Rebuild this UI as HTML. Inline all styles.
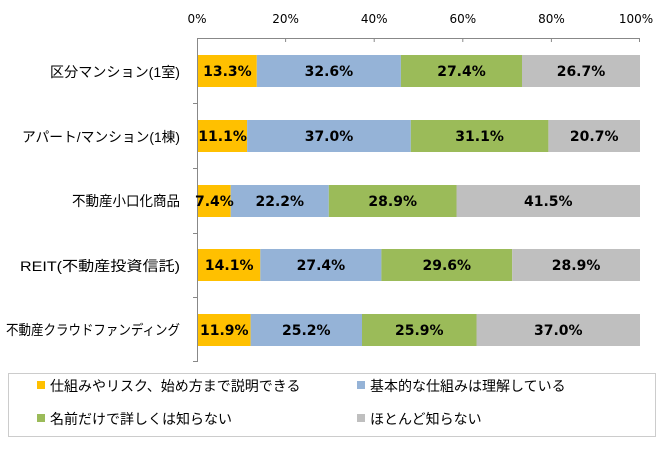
<!DOCTYPE html>
<html><head><meta charset="utf-8"><style>
body{margin:0;background:#fff;width:666px;height:447px;overflow:hidden;font-family:"Liberation Sans","Noto Sans CJK JP",sans-serif}
</style></head><body>
<svg width="666" height="447" xmlns="http://www.w3.org/2000/svg" font-family="Liberation Sans, Noto Sans CJK JP, sans-serif">
<g font-size="12" fill="#000" text-anchor="middle" font-family="DejaVu Sans, sans-serif">
<text x="197" y="23">0%</text><text x="285.6" y="23">20%</text><text x="374.2" y="23">40%</text><text x="462.8" y="23">60%</text><text x="551.4" y="23">80%</text><text x="636" y="23">100%</text>
</g>
<g stroke="#888" stroke-width="1">
<line x1="197.5" y1="38" x2="197.5" y2="362"/>
<line x1="197" y1="38.5" x2="640" y2="38.5"/>
<line x1="285.6" y1="38" x2="285.6" y2="42"/><line x1="374.2" y1="38" x2="374.2" y2="42"/><line x1="462.8" y1="38" x2="462.8" y2="42"/><line x1="551.4" y1="38" x2="551.4" y2="42"/><line x1="639.5" y1="38" x2="639.5" y2="42"/>
<line x1="193" y1="103.5" x2="197" y2="103.5"/><line x1="193" y1="168.5" x2="197" y2="168.5"/><line x1="193" y1="233.5" x2="197" y2="233.5"/><line x1="193" y1="297.5" x2="197" y2="297.5"/><line x1="193" y1="361.5" x2="197" y2="361.5"/>
</g>
<g>
<rect x="198" y="55" width="58.8" height="32" fill="#FFC000"/><rect x="256.8" y="55" width="144.1" height="32" fill="#95B3D7"/><rect x="400.9" y="55" width="121.1" height="32" fill="#9BBB59"/><rect x="522" y="55" width="118" height="32" fill="#BFBFBF"/>
<rect x="198" y="120" width="49.1" height="32" fill="#FFC000"/><rect x="247.1" y="120" width="163.7" height="32" fill="#95B3D7"/><rect x="410.8" y="120" width="137.6" height="32" fill="#9BBB59"/><rect x="548.4" y="120" width="91.6" height="32" fill="#BFBFBF"/>
<rect x="198" y="185" width="32.7" height="32" fill="#FFC000"/><rect x="230.7" y="185" width="98.1" height="32" fill="#95B3D7"/><rect x="328.8" y="185" width="127.7" height="32" fill="#9BBB59"/><rect x="456.5" y="185" width="183.5" height="32" fill="#BFBFBF"/>
<rect x="198" y="249" width="62.3" height="32" fill="#FFC000"/><rect x="260.3" y="249" width="121.1" height="32" fill="#95B3D7"/><rect x="381.4" y="249" width="130.8" height="32" fill="#9BBB59"/><rect x="512.2" y="249" width="127.8" height="32" fill="#BFBFBF"/>
<rect x="198" y="314" width="52.6" height="32" fill="#FFC000"/><rect x="250.6" y="314" width="111.4" height="32" fill="#95B3D7"/><rect x="362" y="314" width="114.5" height="32" fill="#9BBB59"/><rect x="476.5" y="314" width="163.5" height="32" fill="#BFBFBF"/>
</g>
<g font-size="14" font-weight="bold" text-anchor="middle" fill="#000" font-family="DejaVu Sans, sans-serif">
<text x="227.4" y="76">13.3%</text><text x="328.9" y="76">32.6%</text><text x="461.5" y="76">27.4%</text><text x="581" y="76">26.7%</text>
<text x="222.6" y="141">11.1%</text><text x="329" y="141">37.0%</text><text x="479.6" y="141">31.1%</text><text x="594.2" y="141">20.7%</text>
<text x="214.4" y="206">7.4%</text><text x="279.8" y="206">22.2%</text><text x="392.7" y="206">28.9%</text><text x="548.3" y="206">41.5%</text>
<text x="229.2" y="270">14.1%</text><text x="320.9" y="270">27.4%</text><text x="446.8" y="270">29.6%</text><text x="576.1" y="270">28.9%</text>
<text x="224.3" y="335">11.9%</text><text x="306.3" y="335">25.2%</text><text x="419.3" y="335">25.9%</text><text x="558.3" y="335">37.0%</text>
</g>
<g font-size="14" text-anchor="end" fill="#000">
<text x="180" y="77" textLength="130" lengthAdjust="spacingAndGlyphs">区分マンション(1室)</text>
<text x="180" y="142" textLength="158" lengthAdjust="spacingAndGlyphs">アパート/マンション(1棟)</text>
<text x="180" y="206" textLength="108" lengthAdjust="spacingAndGlyphs">不動産小口化商品</text>
<text x="180" y="271" textLength="160" lengthAdjust="spacingAndGlyphs">REIT(不動産投資信託)</text>
<text x="180" y="335" textLength="174" lengthAdjust="spacingAndGlyphs">不動産クラウドファンディング</text>
</g>
<rect x="8.5" y="373.5" width="647" height="63" fill="none" stroke="#ccc"/>
<g font-size="14" fill="#000">
<rect x="37" y="381" width="8" height="8" fill="#FFC000"/><text x="50" y="391">仕組みやリスク、始め方まで説明できる</text>
<rect x="357" y="381" width="8" height="8" fill="#95B3D7"/><text x="370" y="391">基本的な仕組みは理解している</text>
<rect x="37" y="414" width="8" height="8" fill="#9BBB59"/><text x="50" y="424">名前だけで詳しくは知らない</text>
<rect x="357" y="414" width="8" height="8" fill="#BFBFBF"/><text x="370" y="424">ほとんど知らない</text>
</g>
</svg>
</body></html>
